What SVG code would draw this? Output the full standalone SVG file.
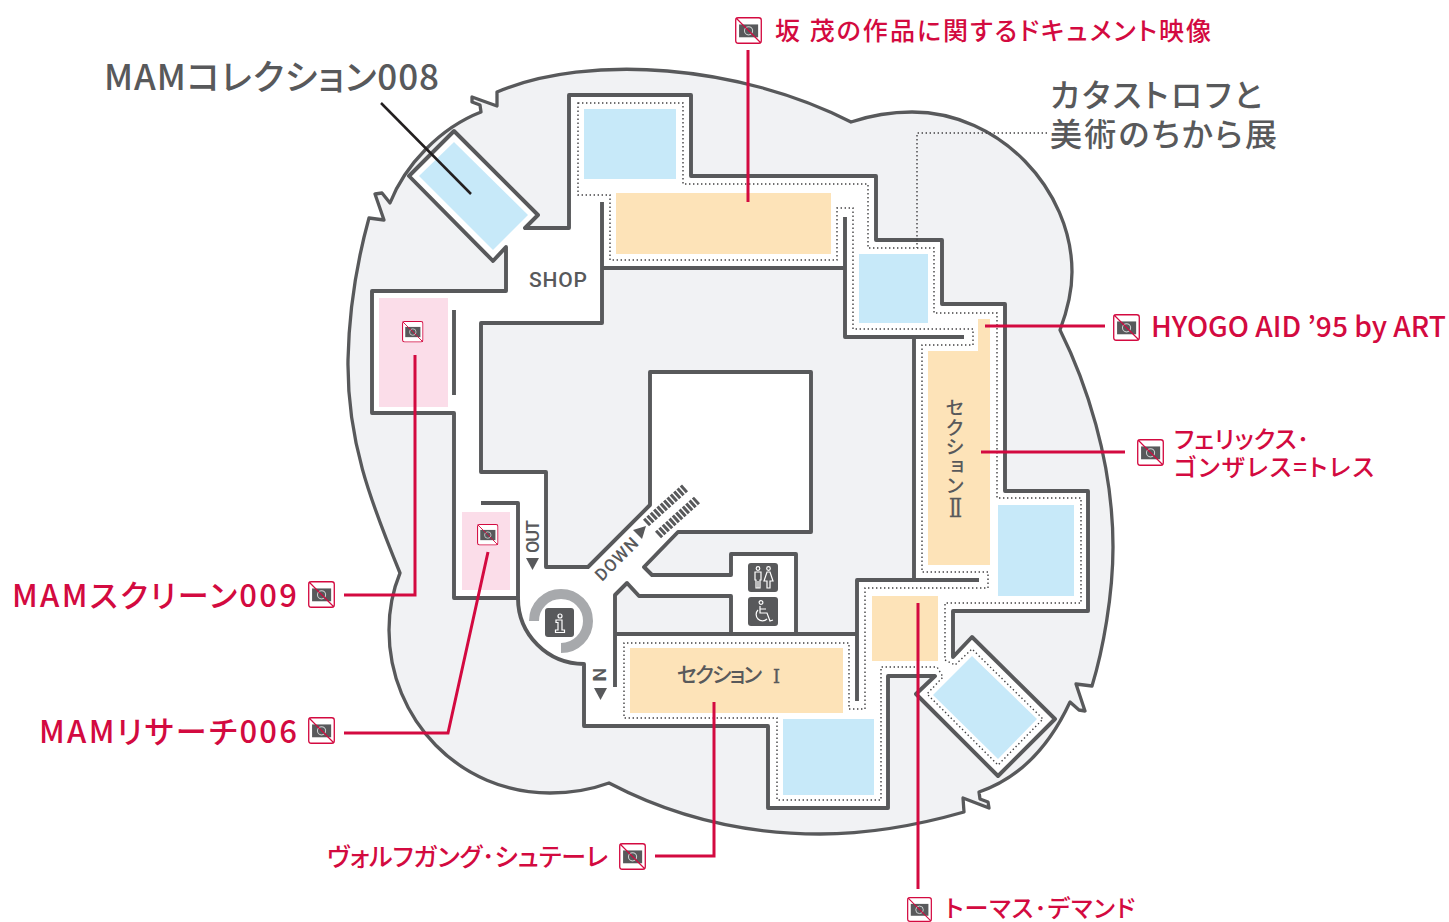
<svg xmlns="http://www.w3.org/2000/svg" width="1449" height="922" viewBox="0 0 1449 922">
<style>
text{font-family:"Noto Sans CJK JP","Noto Sans",sans-serif;font-feature-settings:"palt"}
.wall{fill:none;stroke:#58595b;stroke-width:3.9;stroke-linejoin:round;stroke-linecap:butt}
.dot{fill:none;stroke:#414042;stroke-width:1.4;stroke-dasharray:1.4 2.6}
.blue{fill:#c7e9f9}.orange{fill:#fde3b8}.pink{fill:#fbdde9}
.red{fill:none;stroke:#d30a40;stroke-width:3}
.lr{fill:#d30a40;font-weight:500}
.lg{fill:#58595b;font-weight:500}
.sys{fill:#58595b;font-family:Roboto,"Liberation Sans",sans-serif;font-weight:500}
.num{fill:#58595b;stroke:#58595b;stroke-width:.4;font-family:"DejaVu Serif","Liberation Serif",serif}
.pic{fill:none;stroke:#fff;stroke-width:1.2}
.tile{fill:#58595b}
</style>
<defs>
<symbol id="nophoto" viewBox="0 0 26.5 26.5">
<rect x=".7" y=".7" width="25.1" height="25.1" rx="2.4" fill="#fff" stroke="#d30a40" stroke-width="1.3"/>
<rect x="4" y="7.3" width="18.7" height="12.6" fill="#58595b"/>
<circle cx="13.3" cy="13.6" r="4" fill="none" stroke="#d1d3d4" stroke-width="1"/>
<path d="M1 1L25.500 25.500" stroke="#d30a40" stroke-width="1.1"/>
</symbol>
</defs>

<g id="building">
<path d="M497 92C590 53 740 65 851 122C875 114 895 112 912 112C1000 112 1072 190 1072 272C1072 293 1066 314 1060 330C1085 380 1113 460 1113 547C1113 595 1103 650 1092 686L1076 684L1085 711L1079 710L1070 702C1050 745 1020 778 979 792L980 799L988 802L989 808L963 798L964 812C915 826 870 834 820 834C740 834 670 815 609 783C590 790 570 793 550 793C460 793 389 720 389 630C389 610 393 590 400 573C370 500 347 440 348 360C349 310 356 265 369 218L384 220L375 194L382 193L390 203C405 165 440 128 481 112L480 105L472 102L472 97L497 106Z" fill="#f1f2f4" stroke="#58595b" stroke-width="3.3" stroke-linejoin="round"/>
<path fill="#fff" d="M454 131L538 215L525 228L569 228L569 95L691 95L691 176L876 176L876 240L942 240L942 304L1005 304L1005 491L1088 491L1088 611L953 611L953 657L972 637L1055 719L998 776L916 694L935 676L888 676L888 808L768 808L768 726L584 726L584 664A66 66 0 0 1 518 598L454 598L454 413L372 413L372 291L506 291L506 247L493 261L409 176Z"/>
<path fill="#f1f2f4" d="M602 268L845 268L845 337L913 337L913 580L857 580L857 634L796 634L796 554L731 554L731 575L652 575L644 567L678 532L812 532L812 372L650 372L650 505L588 567L546 567L546 472L481 472L481 323L602 323Z"/>
<path fill="#f1f2f4" d="M615 634L731 634L731 596L639 596L627 583L615 595Z"/>
</g>

<g id="rooms">
<rect class="blue" x="584" y="109" width="92" height="70"/>
<rect class="blue" x="859" y="254" width="69" height="69"/>
<rect class="blue" x="998" y="505" width="76" height="91"/>
<rect class="blue" x="783" y="719" width="91" height="76"/>
<polygon class="blue" points="454,142 419,176 493,250 528,215"/>
<polygon class="blue" points="972,656 933,695 998,759 1037,719"/>
<rect class="orange" x="616" y="193" width="215" height="61"/>
<polygon class="orange" points="978,319 990,319 990,565 928,565 928,351 978,351"/>
<rect class="orange" x="872" y="596" width="66" height="65"/>
<rect class="orange" x="630" y="648" width="213" height="65"/>
<rect class="pink" x="379" y="298" width="69" height="109"/>
<rect class="pink" x="462" y="512" width="48" height="78"/>
</g>

<g id="walls">
<path class="wall" d="M506 247L493 261L409 176L454 131L538 215L525 228L569 228L569 95L691 95L691 176L876 176L876 240L942 240L942 304L1005 304L1005 491L1088 491L1088 611L953 611L953 657L972 637L1055 719L998 776L916 694L935 676L888 676L888 808L768 808L768 726L584 726L584 664A66 66 0 0 1 518 598L454 598L454 413L372 413L372 291L506 291Z"/>
<path class="wall" d="M518 598L518 503L481 503"/>
<path class="wall" d="M454 310L454 395"/>
<path class="wall" d="M602 202L602 323L481 323L481 472L546 472L546 567L588 567L650 505L650 372L811 372L811 532L678 532L644 567L652 575L731 575L731 554L796 554L796 634"/>
<path class="wall" d="M615 687L615 595L627 583L639 596L731 596L731 634"/>
<path class="wall" d="M615 634L857 634"/>
<path class="wall" d="M857 701L857 580L979 580"/>
<path class="wall" d="M914 580L914 337"/>
<path class="wall" d="M964 337L845 337L845 217"/>
<path class="wall" d="M602 268L845 268"/>
</g>

<g id="dotted">
<path class="dot" d="M578 103L683 103L683 184L868 184L868 248L934 248L934 313L997 313L997 498L1081 498L1081 603L945 603L945 660L955 665L972 649L1043 719L998 765L927 694L943 677L937 667L881 667L881 800L777 800L777 718L624 718L624 643L849 643L849 709L865 709L865 588L988 588L988 572L922 572L922 345L973 345L973 329L853 329L853 208L837 208L837 260L610 260L610 195L578 195Z"/>
<path class="dot" d="M1047 133L917 133L917 248"/>
</g>

<g id="stairs">
<path d="M646 523L686 487M658 535L697 500" fill="none" stroke="#58595b" stroke-width="9" stroke-dasharray="3 1.500"/>
<polygon fill="#58595b" points="526,558 539,558 532.500,570"/>
<polygon fill="#58595b" points="594,688 607,688 600.500,700"/>
<polygon fill="#58595b" points="633,530 642,539 646,526"/>
<text class="sys" transform="translate(539 553) rotate(-90)" font-size="18" textLength="33">OUT</text>
<text class="sys" transform="translate(606 682) rotate(-90)" font-size="18" textLength="14">IN</text>
<text class="sys" transform="translate(602 582) rotate(-45)" font-size="17" textLength="53">DOWN</text>
</g>

<g id="info">
<path d="M534 621A27 27 0 1 1 561 648" fill="none" stroke="#a7a9ac" stroke-width="10"/>
<rect class="tile" x="545" y="608" width="29" height="29" rx="3"/>
<circle cx="560" cy="616" r="2" class="pic"/>
<path class="pic" d="M556 620H562V630H564.500V632.500H555.500V630H558V622.500H556Z"/>
</g>

<g id="restroom">
<rect class="tile" x="748" y="563" width="30" height="29" rx="3"/>
<circle cx="758" cy="568.500" r="1.800" class="pic"/>
<circle cx="768.500" cy="568.500" r="1.800" class="pic"/>
<path class="pic" d="M755 572H761V580H760V588H756V580H755ZM758 581V588M767 572H770L773 581H770V588H767V581H764Z"/>
</g>
<g id="accessible">
<rect class="tile" x="748" y="597" width="30" height="29" rx="3"/>
<circle cx="761" cy="602.500" r="1.900" class="pic"/>
<path class="pic" d="M760 606V613H767L770 621L773 620M760 609H766M758 610A6 6 0 1 0 767 619"/>
</g>

<g id="shop"><text class="sys" x="529" y="287" font-size="21" textLength="58">SHOP</text></g>
<g id="section1"><text class="lg" x="677" y="682" font-size="21" font-weight="400" textLength="85">セクション</text><text class="num" x="773" y="683" font-size="19" textLength="7" lengthAdjust="spacingAndGlyphs">Ⅰ</text></g>
<g id="section2"><text class="lg" x="955" y="398" font-size="19.500" font-weight="400" style="writing-mode:vertical-rl;font-feature-settings:normal">セクション</text><text class="num" x="949" y="517" font-size="26" textLength="13" lengthAdjust="spacingAndGlyphs">Ⅱ</text></g>

<g id="leaders">
<path class="red" d="M748 50V202"/>
<path class="red" d="M985 326H1105"/>
<path class="red" d="M981 452H1125"/>
<path class="red" d="M918 603V889"/>
<path class="red" d="M714 702V856H655"/>
<path class="red" d="M415 355V595H344"/>
<path class="red" d="M488 552L448 733H344"/>
<path d="M381 103L471 194" fill="none" stroke="#231f20" stroke-width="2.500"/>
</g>

<g id="room-icons">
<use href="#nophoto" x="402" y="321" width="21.500" height="21.500"/>
<use href="#nophoto" x="477" y="524" width="21.500" height="21.500"/>
</g>

<g id="label-ban"><use href="#nophoto" x="735" y="17" width="27" height="27"/><text class="lr" x="775" y="40" font-size="25" textLength="436">坂 茂の作品に関するドキュメント映像</text></g>
<g id="label-mam008"><text class="lg" x="104" y="90" font-size="35" textLength="335">MAMコレクション008</text></g>
<g id="label-catastrophe"><text class="lg" x="1050" y="107" font-size="32" textLength="212">カタストロフと</text><text class="lg" x="1050" y="146" font-size="32" textLength="227">美術のちから展</text></g>
<g id="label-hyogo"><use href="#nophoto" x="1113" y="314" width="27" height="27"/><text class="lr" x="1151" y="337" font-size="28" textLength="295" lengthAdjust="spacingAndGlyphs">HYOGO AID ’95 by ART</text></g>
<g id="label-gonzalez"><use href="#nophoto" x="1137" y="439" width="27" height="27"/><text class="lr" x="1174" y="448" font-size="24" textLength="135">フェリックス･</text><text class="lr" x="1174" y="476" font-size="24" textLength="200">ゴンザレス=トレス</text></g>
<g id="label-screen"><use href="#nophoto" x="308" y="581" width="27" height="27"/><text class="lr" x="12" y="607" font-size="31" textLength="285">MAMスクリーン009</text></g>
<g id="label-research"><use href="#nophoto" x="308" y="717" width="27" height="27"/><text class="lr" x="39" y="743" font-size="31" textLength="258">MAMリサーチ006</text></g>
<g id="label-wolfgang"><use href="#nophoto" x="619" y="843" width="27" height="27"/><text class="lr" x="327" y="866" font-size="25" textLength="281">ヴォルフガング･シュテーレ</text></g>
<g id="label-demand"><use href="#nophoto" x="906" y="897" width="27" height="25"/><text class="lr" x="945" y="917" font-size="24" textLength="190">トーマス･デマンド</text></g>
</svg>
